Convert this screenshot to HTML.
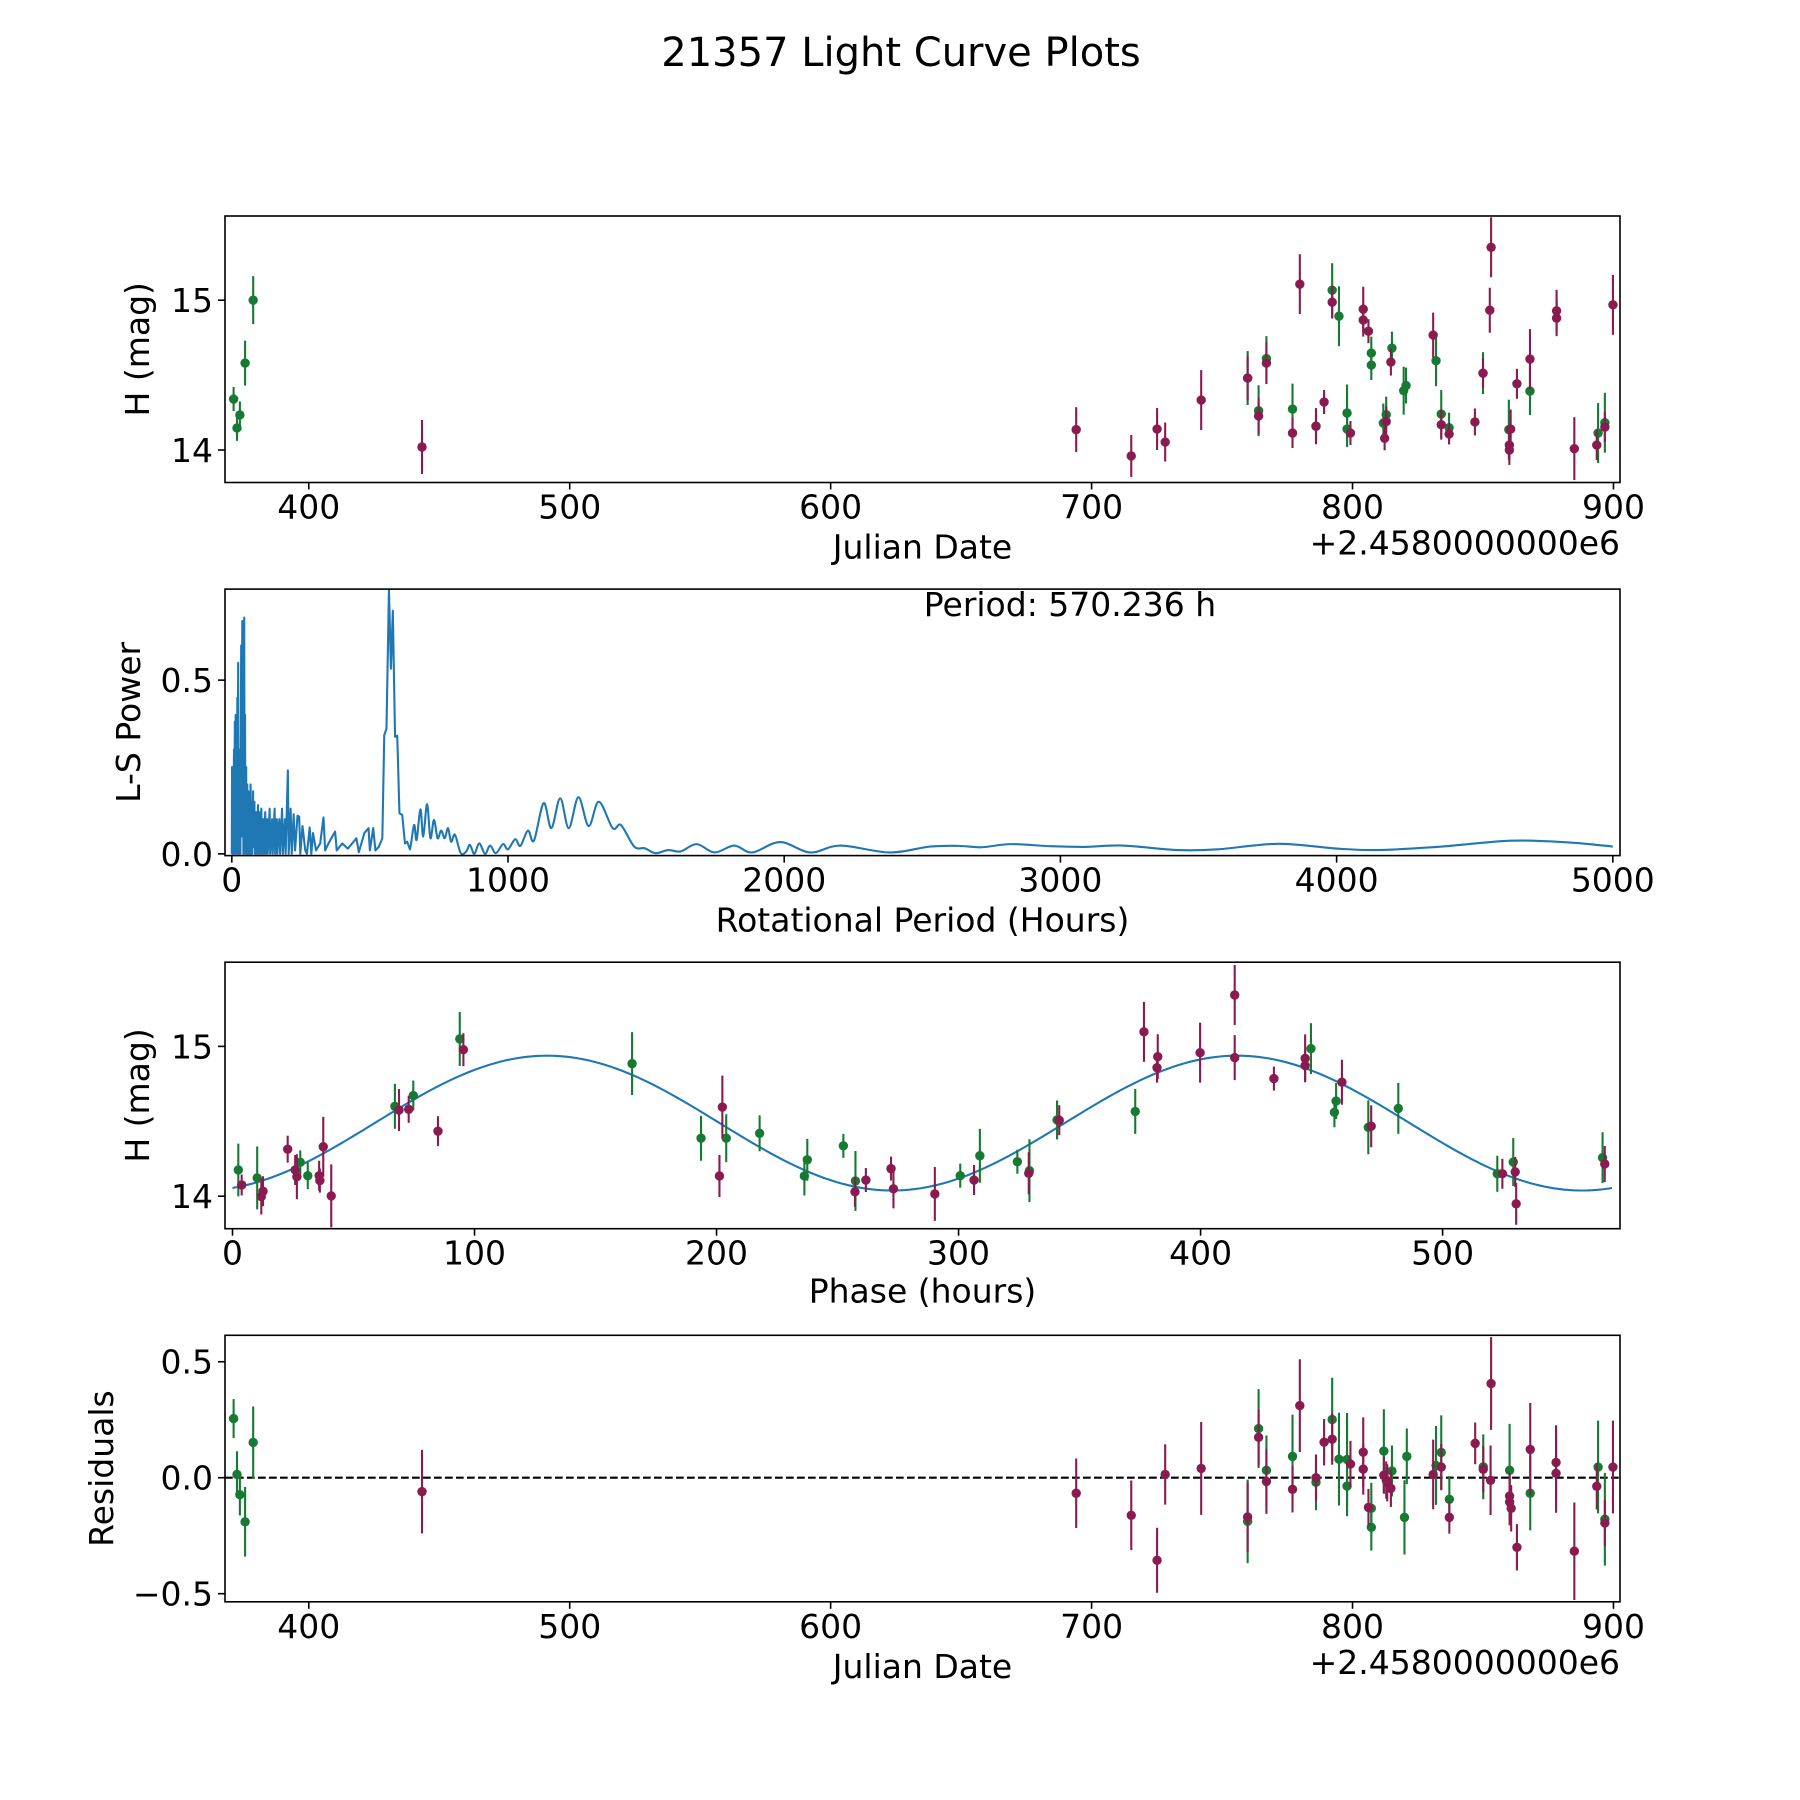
<!DOCTYPE html>
<html>
<head>
<meta charset="utf-8">
<style>
html,body{margin:0;padding:0;background:#fff;}
svg{display:block;font-family:"DejaVu Sans","Liberation Sans",sans-serif;}
</style>
</head>
<body>
<svg id="fig" width="1800" height="1800" viewBox="0 0 1800 1800" xmlns="http://www.w3.org/2000/svg">
<rect x="0" y="0" width="1800" height="1800" fill="#fff"/>
<text x="901" y="66" font-size="40" text-anchor="middle" fill="#000">21357 Light Curve Plots</text>
</svg>
<script>
// ---- Panel 1: magnitude vs Julian Date ----
const topJdGreen = [371.2,372.5,373.6,375.6,378.7,759.8,764.0,767.0,777.0,786.0,792.2,794.8,797.9,797.9,807.2,807.2,811.8,812.9,815.1,819.6,820.5,832.0,834.0,837.0,850.0,859.9,868.0,894.1,896.7];
const topHGreen = [14.34,14.147,14.234,14.58,15.0,14.48,14.262,14.61,14.273,14.16,15.067,14.893,14.247,14.14,14.647,14.567,14.18,14.236,14.68,14.396,14.43,14.596,14.24,14.149,14.513,14.136,14.393,14.113,14.182];
const topErrGreen = [0.08,0.086,0.09,0.15,0.16,0.18,0.17,0.15,0.17,0.12,0.18,0.2,0.19,0.12,0.11,0.1,0.13,0.12,0.11,0.16,0.12,0.17,0.16,0.1,0.14,0.2,0.16,0.2,0.2];
const topJdPurple = [443.4,694.1,715.2,725.1,728.2,742.0,759.8,764.0,767.0,779.8,777.0,786.0,789.1,792.2,799.2,804.1,804.1,806.1,812.3,812.9,814.7,830.9,834.0,837.0,846.9,850.0,853.1,852.6,860.6,860.1,860.1,863.0,868.0,878.2,878.2,885.0,893.6,896.7,899.8];
const topHPurple = [14.02,14.136,13.96,14.14,14.053,14.333,14.48,14.227,14.58,15.107,14.113,14.158,14.32,14.987,14.113,14.94,14.867,14.793,14.078,14.19,14.587,14.767,14.169,14.107,14.187,14.513,15.353,14.933,14.14,14.033,14.0,14.442,14.607,14.929,14.88,14.009,14.033,14.153,14.969];
const topErrPurple = [0.18,0.15,0.14,0.14,0.13,0.2,0.15,0.12,0.14,0.2,0.1,0.12,0.08,0.11,0.08,0.15,0.11,0.08,0.08,0.1,0.09,0.15,0.1,0.07,0.09,0.1,0.2,0.15,0.13,0.1,0.1,0.1,0.2,0.14,0.12,0.21,0.1,0.1,0.2];
const jdTicks = [400,500,600,700,800,900];
const magTicks = [14,15];

// ---- Panel 2: Lomb-Scargle periodogram ----
const lsPeriod = [0,1,2,4,5,8,9,11,12,14,15,18,19,20,21,23,24,26,27,30,31,34,35,38,39,41,42,45,46,48,49,52,53,56,57,60,61,64,65,68,69,72,73,77,78,82,83,88,89,95,96,101,102,107,109,114,116,121,123,128,130,137,139,146,148,155,157,163,165,172,175,182,185,192,195,203,206,213,217,224,229,238,244,248,256,266,272,282,288,294,305,320,332,338,350,374,380,400,420,451,460,480,495,500,512,520,532,545,552,560,569,576,583,591,599,607,617,627,635,645,660,669,683,693,707,719,732,745,758,771,783,794,808,829,849,862,878,896,917,935,956,982,1000,1026,1045,1072,1094,1129,1157,1189,1220,1255,1292,1329,1379,1409,1457,1495,1534,1580,1625,1683,1748,1819,1884,1985,2094,2204,2381,2527,2631,2715,2819,2965,3090,3225,3423,3569,3788,4006,4152,4381,4631,4840,5000];
const lsPower = [0.0,0.25,0.0,0.2,0.0,0.3,0.02,0.38,0.0,0.4,0.05,0.3,0.0,0.45,0.0,0.55,0.1,0.3,0.0,0.3,0.0,0.6,0.05,0.67,0.1,0.66,0.0,0.68,0.1,0.4,0.0,0.25,0.0,0.2,0.0,0.18,0.0,0.15,0.0,0.2,0.0,0.15,0.0,0.18,0.02,0.15,0.0,0.12,0.0,0.14,0.0,0.12,0.0,0.13,0.0,0.1,0.0,0.12,0.0,0.1,0.0,0.13,0.0,0.1,0.0,0.13,0.0,0.1,0.0,0.1,0.0,0.13,0.0,0.1,0.0,0.24,0.0,0.13,0.0,0.114,0.01,0.11,0.107,0.0,0.08,0.01,0.0,0.076,0.0,0.06,0.01,0.03,0.105,0.01,0.03,0.064,0.01,0.03,0.015,0.045,0.005,0.06,0.074,0.01,0.074,0.01,0.02,0.045,0.342,0.36,0.76,0.533,0.7,0.337,0.34,0.117,0.112,0.03,0.035,0.013,0.083,0.04,0.128,0.05,0.143,0.045,0.098,0.045,0.067,0.045,0.074,0.035,0.055,0.002,0.007,0.026,0.0,0.03,0.0,0.024,0.002,0.028,0.013,0.042,0.023,0.067,0.038,0.146,0.074,0.16,0.074,0.163,0.08,0.15,0.074,0.083,0.021,0.016,0.002,0.011,0.007,0.028,0.004,0.024,0.004,0.034,0.004,0.024,0.004,0.021,0.023,0.019,0.028,0.022,0.02,0.024,0.011,0.013,0.029,0.015,0.011,0.021,0.038,0.033,0.021];
const periodTicks = [0,1000,2000,3000,4000,5000];
const powerTicks = [0.0,0.5];
const powerTickLabels = ["0.0","0.5"];
const bestPeriodLabel = "Period: 570.236 h";

// ---- Panel 3: phased light curve ----
const phaseGreen = [2.4,10.2,28.0,31.1,67.1,74.7,93.9,165.1,193.6,204.0,217.8,236.3,237.5,252.4,257.4,300.7,308.8,324.3,329.3,340.7,373.0,445.6,456.0,455.3,469.3,481.7,522.6,529.2,566.1];
const phaseHGreen = [14.175,14.122,14.226,14.137,14.6,14.672,15.05,14.885,14.387,14.387,14.42,14.135,14.243,14.336,14.102,14.137,14.27,14.23,14.17,14.509,14.566,14.985,14.635,14.56,14.46,14.586,14.15,14.228,14.257];
const phaseErrGreen = [0.176,0.21,0.08,0.09,0.15,0.1,0.18,0.21,0.15,0.16,0.12,0.13,0.14,0.08,0.2,0.08,0.18,0.08,0.21,0.13,0.15,0.17,0.12,0.1,0.18,0.17,0.12,0.16,0.17];
const phasePurple = [3.8,11.9,12.6,22.8,25.9,26.6,35.8,36.1,37.5,40.8,68.8,72.8,84.9,95.4,201.2,202.4,257.2,261.7,272.1,273.1,290.2,306.4,329.0,341.6,376.6,382.3,382.0,399.8,414.1,414.1,430.3,443.2,443.2,458.4,470.5,524.7,530.0,530.4,567.0];
const phaseHPurple = [14.075,13.998,14.033,14.314,14.175,14.13,14.137,14.104,14.33,14.002,14.575,14.58,14.434,14.978,14.135,14.595,14.029,14.108,14.184,14.049,14.015,14.108,14.153,14.507,15.097,14.931,14.858,14.958,15.343,14.925,14.785,14.92,14.872,14.761,14.467,14.15,14.162,13.949,14.215];
const phaseErrPurple = [0.07,0.12,0.1,0.09,0.1,0.15,0.1,0.08,0.2,0.21,0.14,0.09,0.1,0.11,0.14,0.21,0.1,0.08,0.08,0.13,0.18,0.1,0.14,0.1,0.2,0.15,0.1,0.2,0.2,0.15,0.08,0.16,0.1,0.15,0.14,0.1,0.1,0.14,0.12];
const fitMean = [14.488];
const fitAmp = [0.45];
const fitPeakPhase = [130];
const fitPeriod = [570.236];
const phaseTicks = [0,100,200,300,400,500];

// ---- Panel 4: residuals ----
const resJdGreen = [371.2,372.5,373.6,375.6,378.7,759.8,764.0,767.0,777.0,786.0,792.2,794.8,797.9,797.9,807.2,807.2,812.0,815.1,819.9,820.8,832.0,834.0,837.1,850.1,860.2,868.1,894.1,896.7];
const resGreen = [0.255,0.014,-0.073,-0.19,0.152,-0.188,0.212,0.032,0.092,-0.02,0.251,0.08,0.079,-0.036,-0.132,-0.214,0.115,0.029,-0.171,0.092,0.053,0.109,-0.093,0.047,0.032,-0.067,0.046,-0.179];
const resErrGreen = [0.084,0.1,0.09,0.15,0.155,0.18,0.17,0.15,0.18,0.12,0.18,0.2,0.2,0.13,0.11,0.1,0.18,0.11,0.16,0.12,0.17,0.16,0.1,0.14,0.2,0.16,0.2,0.2];
const resJdPurple = [443.4,694.1,715.2,725.1,728.2,742.0,759.8,764.0,767.0,779.8,777.0,786.0,789.1,792.2,799.2,804.1,804.1,806.1,812.0,812.9,813.3,814.7,830.9,834.0,837.1,847.0,850.1,853.1,852.9,860.2,860.2,860.8,863.0,868.1,878.0,878.0,885.0,893.6,896.7,899.8];
const resPurple = [-0.06,-0.067,-0.162,-0.356,0.014,0.04,-0.169,0.174,-0.016,0.311,-0.05,0.0,0.153,0.166,0.059,0.11,0.037,-0.128,0.011,-0.01,-0.022,-0.046,0.014,0.046,-0.171,0.148,0.036,0.406,-0.011,-0.079,-0.105,-0.132,-0.3,0.122,0.066,0.019,-0.317,-0.037,-0.195,0.046];
const resErrPurple = [0.18,0.15,0.15,0.14,0.13,0.2,0.15,0.12,0.14,0.2,0.1,0.1,0.1,0.11,0.1,0.15,0.11,0.08,0.08,0.08,0.08,0.08,0.15,0.1,0.07,0.09,0.1,0.2,0.15,0.1,0.1,0.1,0.1,0.2,0.16,0.17,0.21,0.1,0.1,0.2];
const resTicks = [-0.5,0.0,0.5];
const resTickLabels = ["\u22120.5","0.0","0.5"];

const NS = "http://www.w3.org/2000/svg";
const svg = document.getElementById("fig");
const GREEN = "#167a32", PURPLE = "#8a1b50", BLUE = "#1f77b4";
const L = 225, R = 1620, H = 266.5;
const tops = [216, 589.1, 962.2, 1335.3];
const FS = 33;

function mk(tag, attrs, parent) {
  const e = document.createElementNS(NS, tag);
  for (const k in attrs) e.setAttribute(k, attrs[k]);
  (parent || svg).appendChild(e);
  return e;
}
function scale(d0, d1, r0, r1) { return v => r0 + (v - d0) * (r1 - r0) / (d1 - d0); }

function makePanel(i, xlim, ylim, name) {
  const top = tops[i], bot = top + H;
  const g = mk("g", {});
  
  
  const cp = mk("clipPath", { id: "clip" + i }, g);
  mk("rect", { x: L, y: top, width: R - L, height: H }, cp);
  const plot = mk("g", { "clip-path": "url(#clip" + i + ")" }, g);
  
  
  return { g, plot, top, bot, x: scale(xlim[0], xlim[1], L, R), y: scale(ylim[0], ylim[1], bot, top) };
}
function frame(p) {
  const r = mk("rect", { x: L, y: p.top, width: R - L, height: H, fill: "none", stroke: "#000", "stroke-width": 1.6 }, p.g);
  
  
}
function xTicks(p, vals, labels, axisName) {
  vals.forEach((v, k) => {
    const X = p.x(v);
    const t = mk("line", { x1: X, x2: X, y1: p.bot, y2: p.bot + 7, stroke: "#000", "stroke-width": 1.6 }, p.g);
    
    
    const tx = mk("text", { x: X, y: p.bot + 36, "font-size": FS, "text-anchor": "middle" }, p.g);
    tx.textContent = labels[k];
    
    
  });
}
function yTicks(p, vals, labels, axisName) {
  vals.forEach((v, k) => {
    const Y = p.y(v);
    const t = mk("line", { x1: L - 7, x2: L, y1: Y, y2: Y, stroke: "#000", "stroke-width": 1.6 }, p.g);
    
    
    const tx = mk("text", { x: L - 12, y: Y + 12, "font-size": FS, "text-anchor": "end" }, p.g);
    tx.textContent = labels[k];
    
    
  });
}
function xLabel(p, text, nm, dy) {
  const t = mk("text", { x: (L + R) / 2, y: p.bot + (dy || 76), "font-size": FS, "text-anchor": "middle" }, p.g);
  t.textContent = text;
  
  
}
function yLabel(p, text, nm, cx) {
  const cy = (p.top + p.bot) / 2;
  const t = mk("text", { x: cx, y: cy, "font-size": FS, "text-anchor": "middle", transform: "rotate(-90 " + cx + " " + cy + ")" }, p.g);
  t.textContent = text;
  
  
}
function offsetText(p) {
  const t = mk("text", { x: R, y: p.bot + 72, "font-size": FS, "text-anchor": "end" }, p.g);
  t.textContent = "+2.4580000000e6";
  
  
}
function errPoints(p, xs, ys, es, color, nm) {
  const g = mk("g", {}, p.plot);
  
  
  xs.forEach((xv, k) => {
    const X = p.x(xv);
    const eb = mk("line", { x1: X, x2: X, y1: p.y(ys[k] - es[k]), y2: p.y(ys[k] + es[k]), stroke: color, "stroke-width": 2.1 }, g);
    
    
    const c = mk("circle", { cx: X, cy: p.y(ys[k]), r: 4.7, fill: color }, g);
    
    
  });
}
const jdLabels = jdTicks.map(String);

// Panel 1
const p1 = makePanel(0, [367.9, 902.5], [13.783, 15.562], "light-curve-panel");
errPoints(p1, topJdGreen, topHGreen, topErrGreen, GREEN, "green-filter");
errPoints(p1, topJdPurple, topHPurple, topErrPurple, PURPLE, "purple-filter");
frame(p1);
xTicks(p1, jdTicks, jdLabels, "x-axis");
yTicks(p1, magTicks, magTicks.map(String), "y-axis");
xLabel(p1, "Julian Date", "x-axis-title");
offsetText(p1);
yLabel(p1, "H (mag)", "y-axis-title", 149);

// Panel 2
const p2 = makePanel(1, [-24.6, 5026], [-0.005, 0.762], "periodogram-panel");
const pts = lsPeriod.map((v, k) => [p2.x(v), p2.y(lsPower[k])]);
let d = "M" + pts[0][0].toFixed(2) + "," + pts[0][1].toFixed(2);
for (let k = 1; k < pts.length; k++) {
  if (lsPeriod[k - 1] < 640) {
    d += "L" + pts[k][0].toFixed(2) + "," + pts[k][1].toFixed(2);
  } else {
    const p0 = pts[k - 2] || pts[k - 1], a = pts[k - 1], b = pts[k], c = pts[k + 1] || pts[k];
    const c1x = a[0] + (b[0] - p0[0]) / 6, c1y = a[1] + (b[1] - p0[1]) / 6;
    const c2x = b[0] - (c[0] - a[0]) / 6, c2y = b[1] - (c[1] - a[1]) / 6;
    d += "C" + c1x.toFixed(2) + "," + c1y.toFixed(2) + " " + c2x.toFixed(2) + "," + c2y.toFixed(2) + " " + b[0].toFixed(2) + "," + b[1].toFixed(2);
  }
}
const ls = mk("path", { d: d, fill: "none", stroke: BLUE, "stroke-width": 2.1, "stroke-linejoin": "round" }, p2.plot);


frame(p2);
xTicks(p2, periodTicks, periodTicks.map(String), "x-axis");
yTicks(p2, powerTicks, powerTickLabels, "y-axis");
xLabel(p2, "Rotational Period (Hours)", "x-axis-title");
yLabel(p2, "L-S Power", "y-axis-title", 140);
const pt = mk("text", { x: 1070, y: p2.top + 27, "font-size": FS, "text-anchor": "middle" }, p2.g);
pt.textContent = bestPeriodLabel;



// Panel 3
const p3 = makePanel(2, [-3.1, 573.3], [13.783, 15.562], "phased-curve-panel");
let fd = "";
for (let ph = 0; ph <= fitPeriod[0]; ph += 2) {
  const h = fitMean[0] + fitAmp[0] * Math.cos(2 * Math.PI * (ph - fitPeakPhase[0]) / (fitPeriod[0] / 2));
  fd += (ph ? "L" : "M") + p3.x(ph).toFixed(2) + "," + p3.y(h).toFixed(2);
}
const fit = mk("path", { d: fd, fill: "none", stroke: BLUE, "stroke-width": 2.1 }, p3.plot);


errPoints(p3, phaseGreen, phaseHGreen, phaseErrGreen, GREEN, "green-filter");
errPoints(p3, phasePurple, phaseHPurple, phaseErrPurple, PURPLE, "purple-filter");
frame(p3);
xTicks(p3, phaseTicks, phaseTicks.map(String), "x-axis");
yTicks(p3, magTicks, magTicks.map(String), "y-axis");
xLabel(p3, "Phase (hours)", "x-axis-title", 74);
yLabel(p3, "H (mag)", "y-axis-title", 149);

// Panel 4
const p4 = makePanel(3, [367.9, 902.5], [-0.535, 0.614], "residuals-panel");
const zl = mk("line", { x1: L, x2: R, y1: p4.y(0), y2: p4.y(0), stroke: "#000", "stroke-width": 2.1, "stroke-dasharray": "7.7,3.3" }, p4.plot);


errPoints(p4, resJdGreen, resGreen, resErrGreen, GREEN, "green-filter");
errPoints(p4, resJdPurple, resPurple, resErrPurple, PURPLE, "purple-filter");
frame(p4);
xTicks(p4, jdTicks, jdLabels, "x-axis");
yTicks(p4, resTicks, resTickLabels, "y-axis");
xLabel(p4, "Julian Date", "x-axis-title");
offsetText(p4);
yLabel(p4, "Residuals", "y-axis-title", 113);
</script>
</body>
</html>
